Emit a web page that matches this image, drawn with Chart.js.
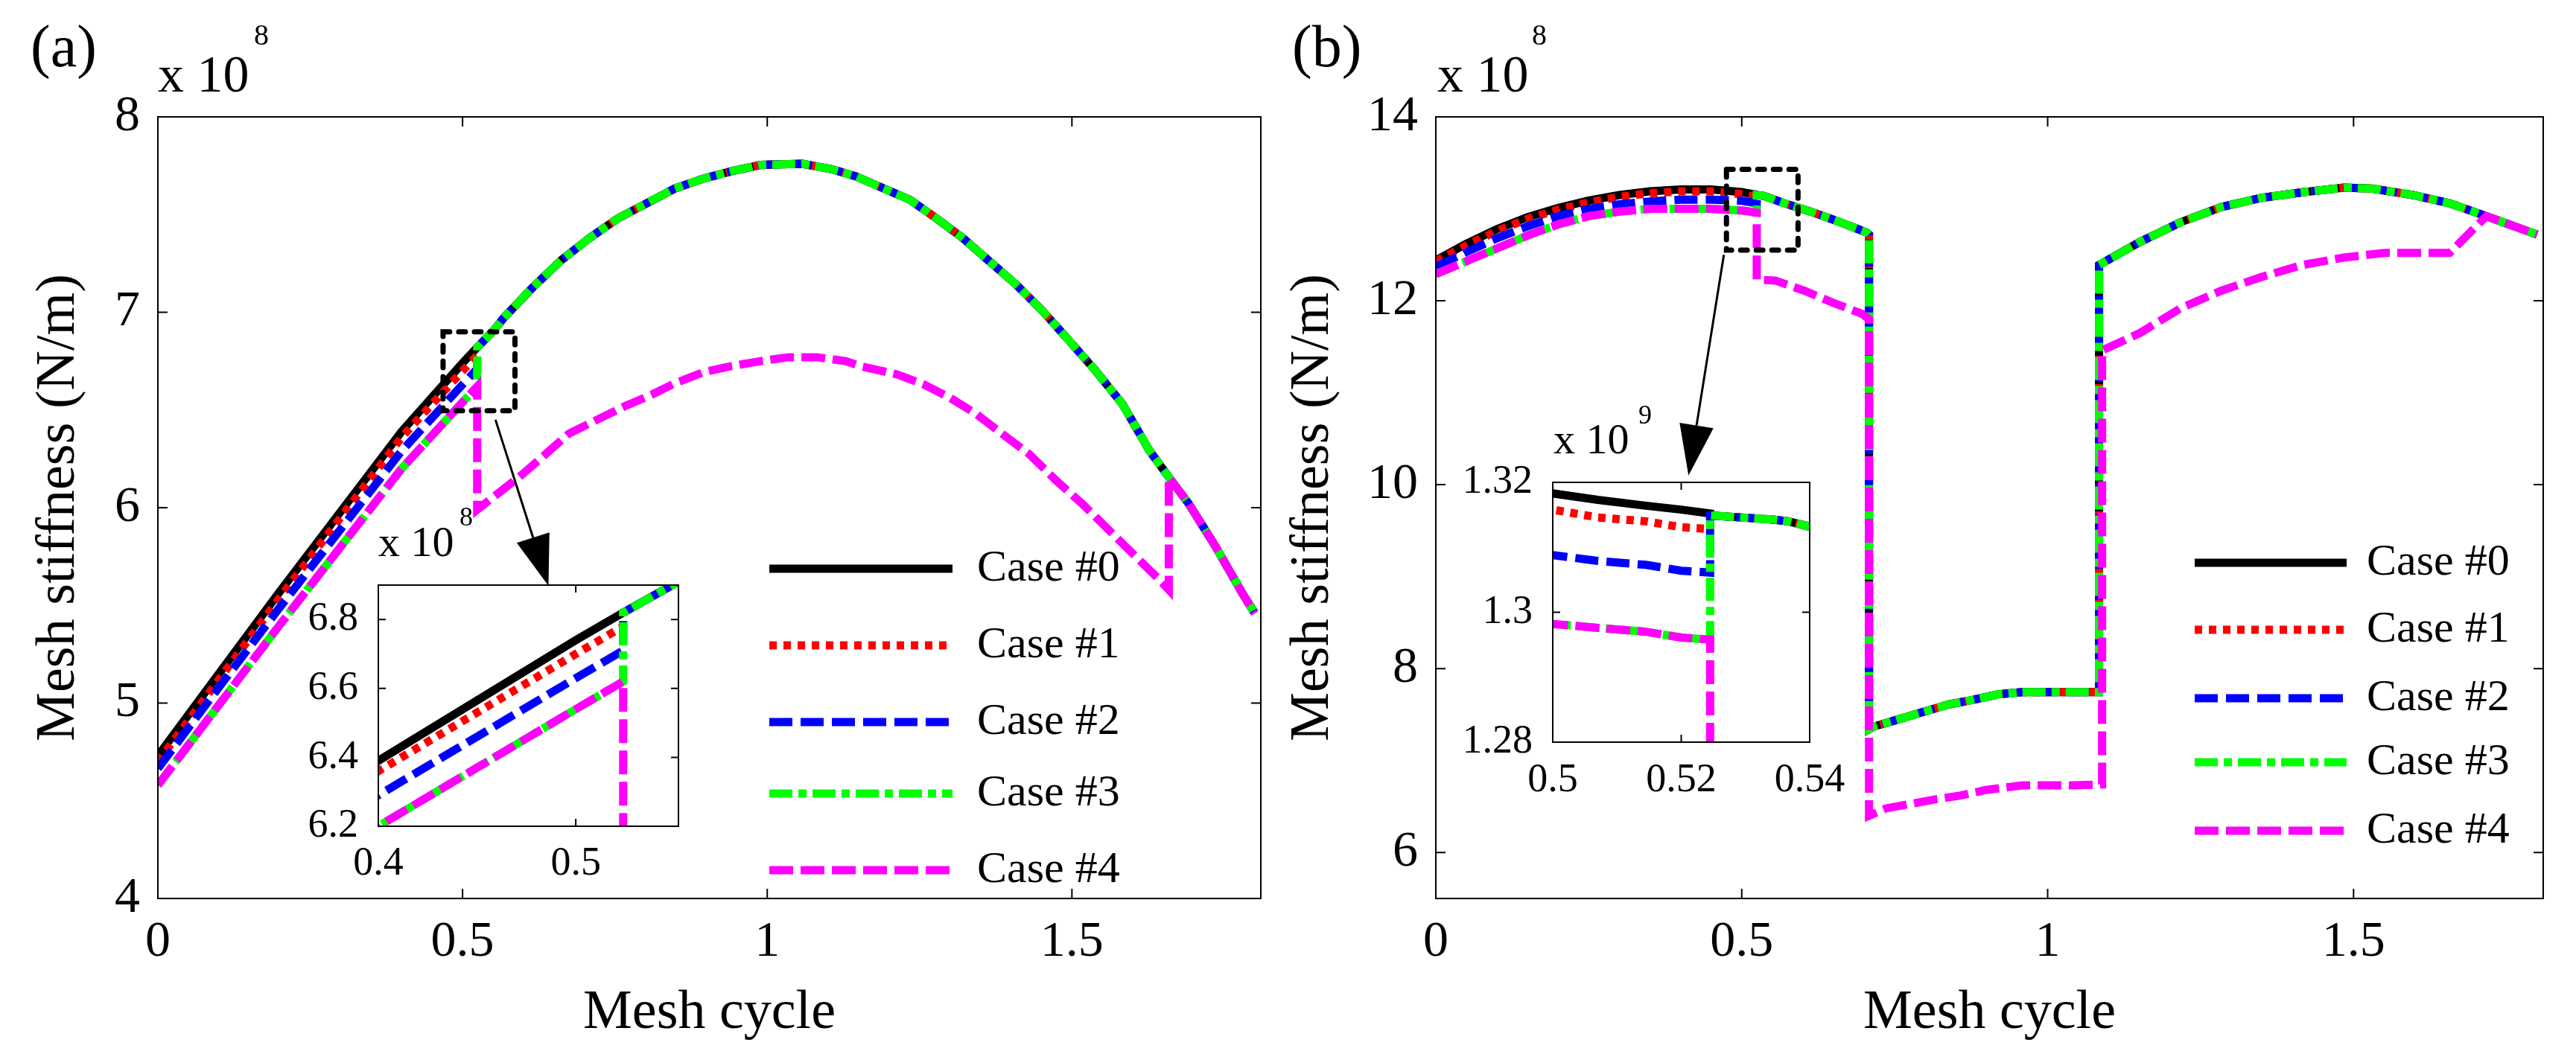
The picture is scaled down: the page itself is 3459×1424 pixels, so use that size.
<!DOCTYPE html>
<html>
<head>
<meta charset="utf-8">
<script src="https://cdn.jsdelivr.net/npm/chart.js@4.4.1/dist/chart.umd.min.js"></script>
<style>
  html, body { margin: 0; padding: 0; background: #fff; }
  #fig { position: relative; width: 3459px; height: 1424px; overflow: hidden; background: #fff; }
  canvas { position: absolute; }
</style>
</head>
<body>
<div id="fig">
  <canvas id="mainA" width="1700" height="1424" style="left:0px;top:0px"></canvas>
  <canvas id="mainB" width="1759" height="1424" style="left:1700px;top:0px"></canvas>
  <canvas id="insetA" width="560" height="540" style="left:380px;top:660px"></canvas>
  <canvas id="insetB" width="560" height="560" style="left:1940px;top:520px"></canvas>
</div>
<script>
// ---- data, panel (a): stiffness in 1e8 N/m against mesh cycle ----
// before the jump (~0.524) the cases differ
const xA_pre  = [0, 0.1, 0.2, 0.3, 0.4, 0.45, 0.5, 0.524];
const a0_pre  = [4.73, 5.15, 5.57, 5.98, 6.39, 6.565, 6.74, 6.82];
const a1_pre  = [4.70, 5.12, 5.54, 5.95, 6.36, 6.53, 6.70, 6.78];
const a2_pre  = [4.665, 5.08, 5.49, 5.89, 6.29, 6.46, 6.63, 6.71];
const a4_pre  = [4.58, 4.99, 5.40, 5.80, 6.20, 6.37, 6.54, 6.62];   // case #3 sits on this too
// shared curve of cases #0..#3 after the jump
const xA_com  = [0.524, 0.552, 0.568, 0.6145, 0.6613, 0.708, 0.7548, 0.8016, 0.848, 0.895, 0.942, 0.989, 1.058,
                 1.106, 1.146, 1.19, 1.234, 1.277, 1.321, 1.365, 1.408, 1.452, 1.496, 1.539, 1.583, 1.627,
                 1.659, 1.692, 1.736, 1.78, 1.80];
const aCom    = [6.82, 6.91, 6.973, 7.125, 7.265, 7.379, 7.48, 7.557, 7.633, 7.684, 7.722, 7.754, 7.76,
                 7.732, 7.695, 7.635, 7.576, 7.482, 7.38, 7.26, 7.143, 7.006, 6.853, 6.70, 6.53, 6.293,
                 6.156, 6.019, 5.80, 5.56, 5.46];
// case #4 lower branch
const xA_low  = [0.524, 0.598, 0.675, 0.764, 0.811, 0.848, 0.895, 0.942, 0.989, 1.035, 1.082, 1.129, 1.151,
                 1.212, 1.256, 1.299, 1.343, 1.386, 1.43, 1.474, 1.517, 1.561, 1.605, 1.644, 1.659];
const a4_low  = [5.99, 6.17, 6.38, 6.516, 6.579, 6.636, 6.693, 6.725, 6.75, 6.77, 6.77, 6.75, 6.726,
                 6.683, 6.632, 6.564, 6.48, 6.377, 6.274, 6.139, 6.02, 5.884, 5.749, 5.63, 5.58];

// ---- data, panel (b) ----
const xB_pre  = [0, 0.05, 0.1, 0.15, 0.2, 0.25, 0.3, 0.35, 0.4, 0.45, 0.5, 0.507, 0.5145, 0.52, 0.5245];
const b0_pre  = [12.44, 12.62, 12.78, 12.91, 13.01, 13.09, 13.15, 13.19, 13.21, 13.21, 13.183, 13.173, 13.164, 13.158, 13.152];
const b1_pre  = [12.43, 12.60, 12.76, 12.89, 12.99, 13.07, 13.13, 13.17, 13.19, 13.19, 13.158, 13.146, 13.140, 13.131, 13.128];
const b2_pre  = [12.37, 12.53, 12.68, 12.81, 12.92, 13.00, 13.05, 13.08, 13.10, 13.10, 13.088, 13.079, 13.073, 13.064, 13.061];
const b4_pre  = [12.29, 12.43, 12.57, 12.71, 12.83, 12.92, 12.97, 13.00, 13.00, 13.00, 12.982, 12.976, 12.970, 12.961, 12.958];
const xB_com  = [0.5245, 0.5293, 0.534, 0.5367, 0.5403, 0.57, 0.617, 0.663, 0.705, 0.708];
const bCom    = [13.149, 13.146, 13.143, 13.14, 13.131, 13.06, 12.96, 12.85, 12.74, 12.72];
const xB_low  = [0.708, 0.716, 0.757, 0.797, 0.838, 0.878, 0.919, 0.959, 1.084];
const bLow    = [7.34, 7.37, 7.45, 7.53, 7.61, 7.66, 7.72, 7.745, 7.745];
const xB_hi   = [1.084, 1.151, 1.2176, 1.284, 1.35, 1.417, 1.484, 1.53, 1.597, 1.657, 1.717, 1.80];
const bHi     = [12.39, 12.64, 12.855, 13.02, 13.12, 13.18, 13.23, 13.22, 13.15, 13.06, 12.92, 12.72];
const xB_mid4 = [0.5245, 0.555, 0.602, 0.649, 0.696, 0.708];
const b4_mid  = [12.23, 12.22, 12.11, 11.98, 11.86, 11.80];
const xB_low4 = [0.708, 0.736, 0.777, 0.818, 0.858, 0.899, 0.959, 1.04, 1.089];
const b4_low  = [6.40, 6.48, 6.53, 6.58, 6.62, 6.68, 6.73, 6.73, 6.74];
const xB_hi4  = [1.089, 1.151, 1.2176, 1.284, 1.35, 1.417, 1.484, 1.55, 1.657];
const b4_hi   = [11.46, 11.65, 11.92, 12.11, 12.26, 12.39, 12.47, 12.52, 12.52];

// ---- ticks ----
const xTicksMain  = [0, 0.5, 1, 1.5];
const xLabelsMain = ['0', '0.5', '1', '1.5'];
const yTicksA     = [4, 5, 6, 7, 8];
const yLabelsA    = ['4', '5', '6', '7', '8'];
const yTicksB     = [6, 8, 10, 12, 14];
const yLabelsB    = ['6', '8', '10', '12', '14'];
const xTicksInA   = [0.4, 0.5];
const xLabelsInA  = ['0.4', '0.5'];
const yTicksInA   = [6.2, 6.4, 6.6, 6.8];
const yLabelsInA  = ['6.2', '6.4', '6.6', '6.8'];
const xTicksInB   = [0.5, 0.52, 0.54];
const xLabelsInB  = ['0.5', '0.52', '0.54'];
const yTicksInB   = [12.8, 13.0, 13.2];
const yLabelsInB  = ['1.28', '1.3', '1.32'];   // axis shown in 1e9

// ---- styles ----
const caseNames  = ['Case #0', 'Case #1', 'Case #2', 'Case #3', 'Case #4'];
const caseColors = ['#000000', '#ff0000', '#0000ff', '#00ff00', '#ff00ff'];
const caseDashes = [[], [10, 9], [31, 11], [31, 8, 11, 8], [32, 10]];
const caseOrder  = [5, 4, 3, 2, 1];   // magenta on top, black at the bottom

const FONT = "'Liberation Serif', 'Times New Roman', serif";
Chart.defaults.font.family = FONT;
Chart.defaults.color = '#000';

const pts = (xs, ys) => xs.map((x, i) => ({ x: x, y: ys[i] }));

const seriesA = [
  [...pts(xA_pre, a0_pre), ...pts(xA_com, aCom)],
  [...pts(xA_pre, a1_pre), ...pts(xA_com, aCom)],
  [...pts(xA_pre, a2_pre), ...pts(xA_com, aCom)],
  [...pts(xA_pre, a4_pre), ...pts(xA_com, aCom)],
  [...pts(xA_pre, a4_pre), ...pts(xA_low, a4_low), ...pts(xA_com, aCom).filter(p => p.x >= 1.659)]
];

const bShared = [...pts(xB_com, bCom), ...pts(xB_low, bLow), ...pts(xB_hi, bHi)];
const seriesB = [
  [...pts(xB_pre, b0_pre), ...bShared],
  [...pts(xB_pre, b1_pre), ...bShared],
  [...pts(xB_pre, b2_pre), ...bShared],
  [...pts(xB_pre, b4_pre), ...bShared],
  [...pts(xB_pre, b4_pre), ...pts(xB_mid4, b4_mid), ...pts(xB_low4, b4_low), ...pts(xB_hi4, b4_hi),
   ...pts(xB_hi, bHi).filter(p => p.x > 1.657)]
];

function buildSets(series) {
  return series.map((data, i) => ({
    label: caseNames[i],
    data: data,
    borderColor: caseColors[i],
    borderDash: caseDashes[i],
    borderWidth: 11,
    pointRadius: 0,
    tension: 0,
    fill: false,
    order: caseOrder[i]
  }));
}

function axis(min, max, ticks, labels, size, pad, thickness, horizontal, title) {
  const a = {
    type: 'linear', min: min, max: max,
    grid: { display: false, drawTicks: false },
    border: { display: false },
    ticks: {
      autoSkip: false, maxRotation: 0, minRotation: 0, padding: pad,
      font: { size: size }, color: '#000',
      callback: (v, i) => labels[i]
    },
    afterBuildTicks: s => { s.ticks = ticks.map(v => ({ value: v })); },
    afterFit: s => {
      if (horizontal) s.height = thickness; else s.width = thickness;
      s.paddingLeft = s.paddingRight = s.paddingTop = s.paddingBottom = 0;
    }
  };
  if (title) a.title = title;
  return a;
}

// box with inward ticks, MATLAB style
const frame = {
  id: 'frame',
  beforeDatasetsDraw(chart, args, o) {
    if (!o.fill) return;
    const a = chart.chartArea, ctx = chart.ctx;
    ctx.save();
    ctx.fillStyle = '#fff';
    ctx.fillRect(a.left, a.top, a.right - a.left, a.bottom - a.top);
    ctx.restore();
  },
  afterDatasetsDraw(chart, args, o) {
    const { ctx, chartArea: a, scales } = chart;
    ctx.save();
    ctx.strokeStyle = '#000';
    ctx.lineWidth = o.lineWidth;
    ctx.setLineDash([]);
    ctx.strokeRect(a.left, a.top, a.right - a.left, a.bottom - a.top);
    ctx.beginPath();
    scales.x.ticks.forEach(t => {
      const p = scales.x.getPixelForValue(t.value);
      ctx.moveTo(p, a.bottom); ctx.lineTo(p, a.bottom - o.len);
      ctx.moveTo(p, a.top); ctx.lineTo(p, a.top + o.len);
    });
    scales.y.ticks.forEach(t => {
      const p = scales.y.getPixelForValue(t.value);
      ctx.moveTo(a.left, p); ctx.lineTo(a.left + o.len, p);
      ctx.moveTo(a.right, p); ctx.lineTo(a.right - o.len, p);
    });
    ctx.stroke();
    ctx.restore();
  }
};

// texts, zoom box, arrow and legend
const extras = {
  id: 'extras',
  afterDraw(chart, args, o) {
    const ctx = chart.ctx;
    const sx = chart.scales.x, sy = chart.scales.y;
    ctx.save();
    ctx.fillStyle = '#000';
    ctx.textAlign = 'left';
    ctx.textBaseline = 'alphabetic';
    (o.texts || []).forEach(t => {
      ctx.font = t.size + 'px ' + FONT;
      ctx.fillText(t.text, t.x, t.y);
    });
    if (o.zoomBox) {
      const z = o.zoomBox;
      const l = sx.getPixelForValue(z.x0), r = sx.getPixelForValue(z.x1);
      const t = sy.getPixelForValue(z.y1), b = sy.getPixelForValue(z.y0);
      ctx.strokeStyle = '#000';
      ctx.lineWidth = 7;
      ctx.lineCap = 'round';
      ctx.setLineDash([9, 12]);
      ctx.strokeRect(l, t, r - l, b - t);
      ctx.setLineDash([]);
      ctx.lineCap = 'butt';
    }
    if (o.arrow) {
      const w = o.arrow;
      const x0 = sx.getPixelForValue(w.x0), y0 = sy.getPixelForValue(w.y0);
      const x1 = sx.getPixelForValue(w.x1), y1 = sy.getPixelForValue(w.y1);
      const len = Math.hypot(x1 - x0, y1 - y0);
      const ux = (x1 - x0) / len, uy = (y1 - y0) / len;
      const bx = x1 - ux * w.head, by = y1 - uy * w.head;
      ctx.strokeStyle = '#000';
      ctx.lineWidth = 3;
      ctx.beginPath(); ctx.moveTo(x0, y0); ctx.lineTo(bx, by); ctx.stroke();
      ctx.beginPath();
      ctx.moveTo(x1, y1);
      ctx.lineTo(bx - uy * w.half, by + ux * w.half);
      ctx.lineTo(bx + uy * w.half, by - ux * w.half);
      ctx.closePath();
      ctx.fill();
    }
    if (o.legend) {
      const L = o.legend;
      chart.data.datasets.forEach((ds, i) => {
        const y = L.rows[i];
        ctx.strokeStyle = ds.borderColor;
        ctx.lineWidth = ds.borderWidth;
        ctx.setLineDash(ds.borderDash);
        ctx.beginPath(); ctx.moveTo(L.x1, y); ctx.lineTo(L.x2, y); ctx.stroke();
        ctx.setLineDash([]);
        ctx.fillStyle = '#000';
        ctx.font = L.size + 'px ' + FONT;
        ctx.textBaseline = 'middle';
        ctx.fillText(ds.label, L.tx, y);
      });
    }
    ctx.restore();
  }
};

function makeChart(id, series, cfg) {
  return new Chart(document.getElementById(id), {
    type: 'line',
    data: { datasets: buildSets(series) },
    options: {
      responsive: false,
      animation: false,
      devicePixelRatio: 1,
      events: [],
      layout: { padding: cfg.padding },
      scales: { x: cfg.x, y: cfg.y },
      plugins: {
        legend: { display: false },
        tooltip: { enabled: false },
        frame: cfg.frame,
        extras: cfg.extras
      }
    },
    plugins: [frame, extras]
  });
}

const xTitle = { display: true, text: 'Mesh cycle', color: '#000', font: { size: 74 }, padding: { top: 0, bottom: 18 } };
const yTitle = pt => ({ display: true, text: 'Mesh stiffness (N/m)', color: '#000', font: { size: 74 }, padding: { top: pt, bottom: 0 } });

makeChart('mainA', seriesA, {
  padding: { top: 157, right: 7, bottom: 0, left: 0 },
  x: axis(0, 1.81, xTicksMain, xLabelsMain, 68, 18, 217, true, xTitle),
  y: axis(4, 8, yTicksA, yLabelsA, 68, 24, 212, false, yTitle(35)),
  frame: { lineWidth: 2, len: 13, fill: false },
  extras: {
    texts: [
      { text: '(a)', x: 41, y: 89, size: 80 },
      { text: 'x 10', x: 212, y: 123, size: 70 },
      { text: '8', x: 341, y: 60, size: 40 }
    ],
    zoomBox: { x0: 0.468, x1: 0.586, y0: 6.496, y1: 6.90 },
    arrow: { x0: 0.554, y0: 6.45, x1: 0.641, y1: 5.60, head: 68, half: 23 },
    legend: { x1: 1033, x2: 1279, tx: 1312, rows: [764, 867, 970, 1066, 1169], size: 60 }
  }
});

makeChart('mainB', seriesB, {
  padding: { top: 157, right: 44, bottom: 0, left: 0 },
  x: axis(0, 1.81, xTicksMain, xLabelsMain, 68, 18, 217, true, xTitle),
  y: axis(5.5, 14, yTicksB, yLabelsB, 68, 24, 228, false, yTitle(19)),
  frame: { lineWidth: 2, len: 13, fill: false },
  extras: {
    texts: [
      { text: '(b)', x: 35, y: 89, size: 80 },
      { text: 'x 10', x: 230, y: 123, size: 70 },
      { text: '8', x: 357, y: 60, size: 40 }
    ],
    zoomBox: { x0: 0.475, x1: 0.592, y0: 12.55, y1: 13.43 },
    arrow: { x0: 0.4708, y0: 12.50, x1: 0.413, y1: 10.10, head: 68, half: 23 },
    legend: { x1: 1247, x2: 1451, tx: 1478, rows: [756, 846, 938, 1024, 1116], size: 60 }
  }
});

makeChart('insetA', seriesA, {
  padding: { top: 126, right: 29, bottom: 0, left: 0 },
  x: axis(0.4, 0.552, xTicksInA, xLabelsInA, 54, 18, 90, true),
  y: axis(6.2, 6.9, yTicksInA, yLabelsInA, 54, 27, 128, false),
  frame: { lineWidth: 2, len: 10, fill: true },
  extras: {
    texts: [
      { text: 'x 10', x: 128, y: 87, size: 58 },
      { text: '8', x: 237, y: 46, size: 36 }
    ]
  }
});

makeChart('insetB', seriesB, {
  padding: { top: 128, right: 70, bottom: 0, left: 0 },
  x: axis(0.5, 0.54, xTicksInB, xLabelsInB, 54, 19, 83, true),
  y: axis(12.8, 13.2, yTicksInB, yLabelsInB, 54, 27, 145, false),
  frame: { lineWidth: 2, len: 10, fill: true },
  extras: {
    texts: [
      { text: 'x 10', x: 146, y: 89, size: 58 },
      { text: '9', x: 260, y: 49, size: 36 }
    ]
  }
});
</script>
</body>
</html>
